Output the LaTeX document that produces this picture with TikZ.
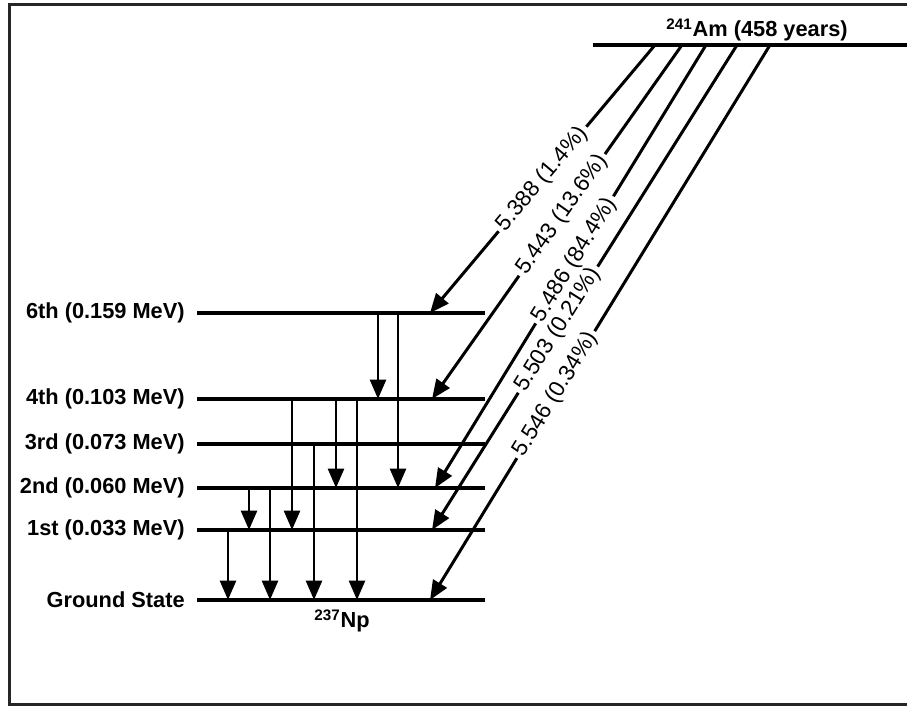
\documentclass[tikz,border=0pt]{standalone}
\usepackage{fontspec}
\setmainfont{Liberation Sans}
\usetikzlibrary{arrows.meta, positioning}

\begin{document}
\begin{tikzpicture}[x=0.02cm, y=-0.02cm, >={Triangle[length=11pt, width=9pt]},
    level/.style={line width=2pt},
    gam/.style={->, line width=1.7pt},
    alf/.style={->, line width=1.7pt},
    lvlab/.style={font=\fontsize{12.4}{14}\selectfont\bfseries, inner sep=0pt},
    alab/.style={font=\fontsize{12.8}{14}\selectfont, sloped, inner sep=2pt},
    frame/.style={draw=black!85, line width=1.7pt}]

    \useasboundingbox (0,0) rectangle (907,706);

    % 1. Rahmen
    \draw[frame] (9.5,4.5) rectangle (930,704.5);

    % 2. Niveaus von Np-237
    \coordinate (lv6) at (197,313);
    \coordinate (lv4) at (197,399);
    \coordinate (lv3) at (197,444);
    \coordinate (lv2) at (197,488);
    \coordinate (lv1) at (197,530);
    \coordinate (lv0) at (197,600);
    \foreach \l in {lv6,lv4,lv3,lv2,lv1,lv0}
      \draw[level] (\l) -- ++(288,0);

    \node[lvlab, left=0.24cm of lv6] (t6) {6th (0.159 MeV)};
    \node[lvlab, left=0.24cm of lv4] (t4) {4th (0.103 MeV)};
    \node[lvlab, left=0.24cm of lv3] (t3) {3rd (0.073 MeV)};
    \node[lvlab, left=0.24cm of lv2] (t2) {2nd (0.060 MeV)};
    \node[lvlab, left=0.24cm of lv1] (t1) {1st (0.033 MeV)};
    \node[lvlab, left=0.24cm of lv0] (t0) {Ground State};
    \node[lvlab] (np) at (342,621) {\textsuperscript{237}Np};

    % 3. Am-241
    \coordinate (am) at (593,45);
    \draw[level] (am) -- (930,45);
    \node[lvlab, anchor=base] (amlab) at (757,37) {\textsuperscript{241}Am (458 years)};

    % 4. Gammaübergänge
    \draw[gam] (378,0 |- lv6) -- (378,0 |- lv4);
    \draw[gam] (398,0 |- lv6) -- (398,0 |- lv2);
    \draw[gam] (292,0 |- lv4) -- (292,0 |- lv1);
    \draw[gam] (336,0 |- lv4) -- (336,0 |- lv2);
    \draw[gam] (357,0 |- lv4) -- (357,0 |- lv0);
    \draw[gam] (314,0 |- lv3) -- (314,0 |- lv0);
    \draw[gam] (249,0 |- lv2) -- (249,0 |- lv1);
    \draw[gam] (270,0 |- lv2) -- (270,0 |- lv0);
    \draw[gam] (228,0 |- lv1) -- (228,0 |- lv0);

    % 5. Alphazerfälle
    \coordinate (a1) at (655,45);
    \coordinate (a2) at (682,45);
    \coordinate (a3) at (706,45);
    \coordinate (a4) at (737,45);
    \coordinate (a5) at (770,45);
    \coordinate (e1) at (430,0 |- lv6);
    \coordinate (e2) at (432,0 |- lv4);
    \coordinate (e3) at (435,0 |- lv2);
    \coordinate (e4) at (432,0 |- lv1);
    \coordinate (e5) at (430,0 |- lv0);

    \path (a1) -- node[alab, pos=.50] (p1) {5.388 (1.4\%)} (e1);
    \path (a2) -- node[alab, pos=.48] (p2) {5.443 (13.6\%)} (e2);
    \path (a3) -- node[alab, pos=.485] (p3) {5.486 (84.4\%)} (e3);
    \path (a4) -- node[alab, pos=.587] (p4) {5.503 (0.21\%)} (e4);
    \path (a5) -- node[alab, pos=.63] (p5) {5.546 (0.34\%)} (e5);
    \foreach \i in {1,...,5}
      \draw[alf] (a\i) -- (p\i) -- (e\i);

\end{tikzpicture}
\end{document}
